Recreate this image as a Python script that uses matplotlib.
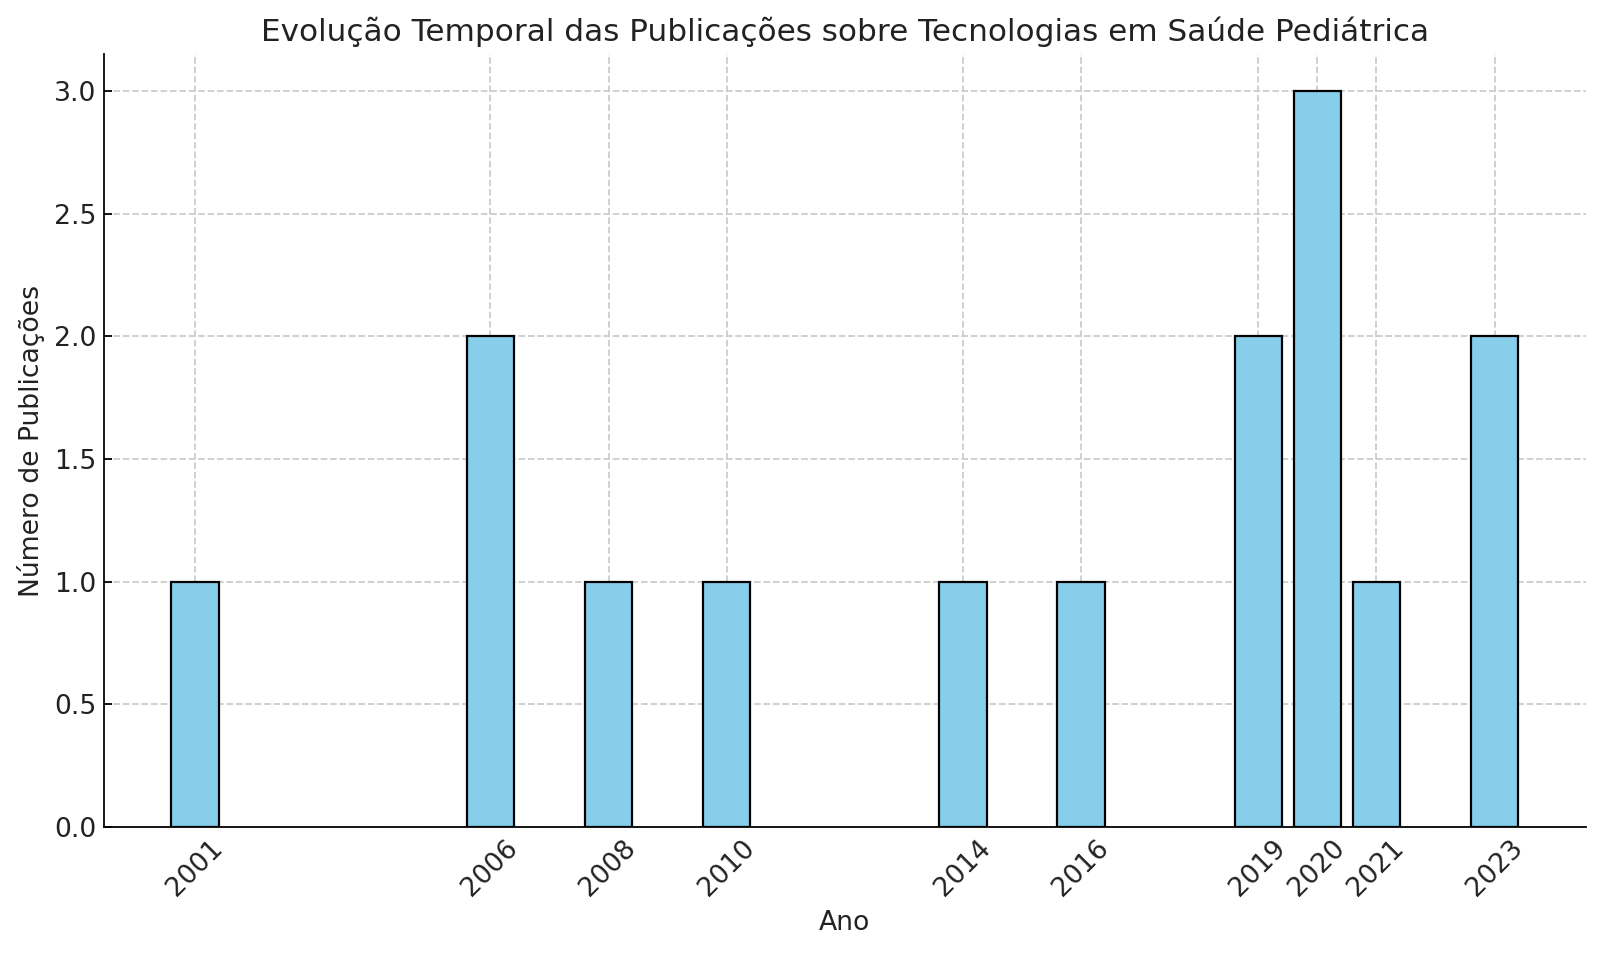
import matplotlib
matplotlib.use("Agg")
import matplotlib.pyplot as plt

anos = [2001, 2006, 2008, 2010, 2014, 2016, 2019, 2020, 2021, 2023]
publicacoes = [1, 2, 1, 1, 1, 1, 2, 3, 1, 2]

TXT = "#222222"

fig, ax = plt.subplots(figsize=(10, 5.9625), dpi=160)
fig.subplots_adjust(left=0.065, right=0.991, bottom=0.133, top=0.943)
ax.bar(anos, publicacoes, width=0.8, color="skyblue", edgecolor="black")

ax.set_title("Evolução Temporal das Publicações sobre Tecnologias em Saúde Pediátrica",
             fontsize=14, color=TXT)
ax.set_xlabel("Ano", fontsize=12, color=TXT)
ax.set_ylabel("Número de Publicações", fontsize=12, color=TXT)
ax.set_xticks(anos)
ax.set_xticklabels([str(a) for a in anos], rotation=45)
ax.tick_params(labelsize=12, direction="in", labelcolor=TXT)
ax.grid(True, linestyle="--", color="#cccccc", linewidth=0.8)
ax.set_axisbelow(True)
ax.spines["top"].set_visible(False)
ax.spines["right"].set_visible(False)

fig.savefig("out.png", dpi=160)
